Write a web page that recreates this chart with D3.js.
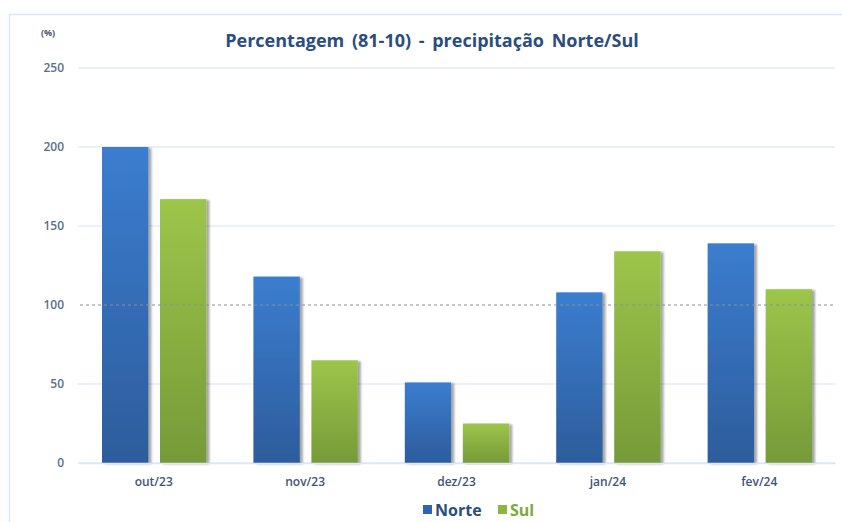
<!DOCTYPE html>
<html>
<head>
<meta charset="utf-8">
<script src="https://cdn.jsdelivr.net/npm/d3@7"></script>
<style>
  body { margin: 0; background: #fff; }
  text { font-family: "Open Sans", "Noto Sans", sans-serif; }
</style>
</head>
<body>
<div id="chart"></div>
<script>
// data
const months = ["out/23", "nov/23", "dez/23", "jan/24", "fev/24"];
const norte = [200, 118, 51, 108, 139];
const sul = [167, 65, 25, 134, 110];
const yTicks = [0, 50, 100, 150, 200, 250];
const seriesNames = ["Norte", "Sul"];

const W = 842, H = 522;
const margin = { top: 68, right: 7, bottom: 59, left: 78 };
const width = W - margin.left - margin.right;
const height = H - margin.top - margin.bottom;

const svg = d3.select("#chart").append("svg")
  .attr("width", W).attr("height", H);

const defs = svg.append("defs");
const grads = [
  { id: "gBlue", top: "#3b7dcf", bottom: "#2d5c9c" },
  { id: "gGreen", top: "#9dc54a", bottom: "#769a38" },
];
grads.forEach((g) => {
  const lg = defs.append("linearGradient").attr("id", g.id)
    .attr("x1", 0).attr("y1", 0).attr("x2", 0).attr("y2", 1);
  lg.append("stop").attr("offset", "0%").attr("stop-color", g.top);
  lg.append("stop").attr("offset", "100%").attr("stop-color", g.bottom);
});
const sh = defs.append("filter").attr("id", "shadow")
  .attr("x", "-20%").attr("y", "-5%").attr("width", "150%").attr("height", "110%");
sh.append("feDropShadow").attr("dx", 3).attr("dy", 1).attr("stdDeviation", 1.2)
  .attr("flood-color", "#000").attr("flood-opacity", 0.35);

// outer frame
svg.append("path")
  .attr("d", `M9.5,${H} L9.5,14.5 L${W},14.5`)
  .attr("fill", "none").attr("stroke", "#dce7f5").attr("stroke-width", 1.5);

const g = svg.append("g").attr("transform", `translate(${margin.left},${margin.top})`);

const x = d3.scaleBand().domain(months).range([0, width]).paddingInner(0).paddingOuter(0);
const x1 = d3.scaleBand().domain(seriesNames).range([24, x.bandwidth() - 23]).paddingInner(0.2);
const y = d3.scaleLinear().domain([0, 250]).range([height, 0]);

// gridlines
g.append("g").selectAll("line").data(yTicks.filter((d) => d !== 100)).join("line")
  .attr("x1", 0).attr("x2", width)
  .attr("y1", (d) => y(d)).attr("y2", (d) => y(d))
  .attr("stroke", "#e3edf8").attr("stroke-width", 1.5);

// y tick labels
const yAxis = g.append("g").call(d3.axisLeft(y).tickValues(yTicks).tickSize(0).tickPadding(14));
yAxis.select(".domain").remove();
yAxis.selectAll("text").attr("font-size", 12).attr("font-weight", 600).attr("fill", "#5b6f8a")
  .attr("font-family", "'Open Sans', sans-serif");

// bars
const data = [norte, sul];
const fills = ["url(#gBlue)", "url(#gGreen)"];
seriesNames.forEach((s, si) => {
  g.append("g").selectAll("rect").data(months).join("rect")
    .attr("x", (m) => x(m) + x1(s))
    .attr("width", x1.bandwidth())
    .attr("y", (m, i) => y(data[si][i]))
    .attr("height", (m, i) => height - y(data[si][i]))
    .attr("fill", fills[si])
    .attr("filter", "url(#shadow)");
});

// 100% reference line
g.append("line")
  .attr("x1", 2).attr("x2", width)
  .attr("y1", y(100)).attr("y2", y(100))
  .attr("stroke", "#8a8f99").attr("stroke-width", 1.2)
  .attr("stroke-dasharray", "3,3");

// x axis
const xAxis = g.append("g").attr("transform", `translate(0,${height})`)
  .call(d3.axisBottom(x).tickSize(0).tickPadding(14));
xAxis.select(".domain").attr("stroke", "#dce7f5").attr("stroke-width", 1.5);
xAxis.selectAll("text").attr("font-size", 12).attr("font-weight", 600).attr("fill", "#3f5576")
  .attr("font-family", "'Open Sans', sans-serif");

// title
svg.append("text")
  .attr("x", 432).attr("y", 47)
  .attr("text-anchor", "middle")
  .attr("font-size", 18).attr("font-weight", 700).attr("fill", "#2a4d7f")
  .attr("word-spacing", 3)
  .text("Percentagem (81-10) - precipitação Norte/Sul");

svg.append("text")
  .attr("x", 48).attr("y", 36)
  .attr("text-anchor", "middle")
  .attr("font-size", 9).attr("font-weight", 700).attr("fill", "#4a5870")
  .text("(%)");

// legend
const legend = svg.append("g").attr("transform", "translate(423,505)");
const legCols = ["#2f63b0", "#8db640"];
const legText = ["#2a4d7f", "#7ea83a"];
const legX = [0, 75];
seriesNames.forEach((s, i) => {
  legend.append("rect").attr("x", legX[i]).attr("y", 0).attr("width", 9).attr("height", 9)
    .attr("fill", legCols[i]);
  legend.append("text").attr("x", legX[i] + 12).attr("y", 11)
    .attr("font-size", 16).attr("font-weight", 700).attr("fill", legText[i])
    .text(s);
});
</script>
</body>
</html>
